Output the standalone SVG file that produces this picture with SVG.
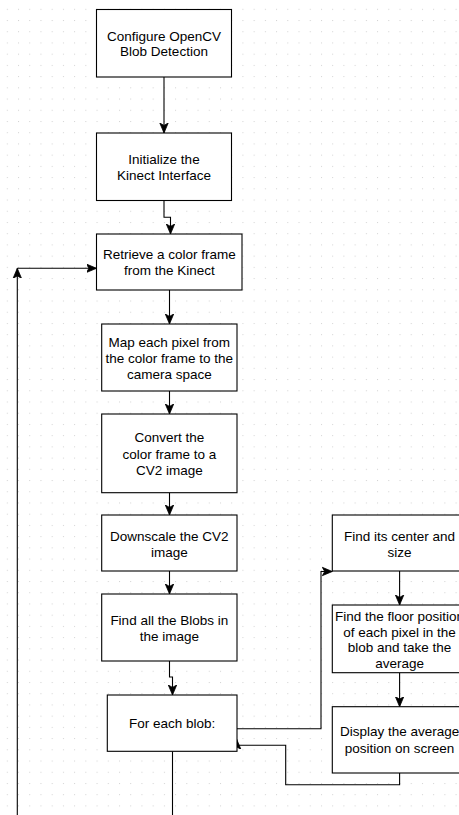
<svg xmlns="http://www.w3.org/2000/svg" width="459" height="815" viewBox="0 0 459 815">
<style>
.box{fill:#fff;stroke:#000;stroke-width:1.1}
.lbl{font-family:"Liberation Sans",Arial,Helvetica,sans-serif;font-size:13.5px;fill:#000;text-anchor:middle}
.edge{fill:none;stroke:#000;stroke-width:1.1}
.arr{marker-end:url(#ah)}
</style>
<defs>
<pattern id="grid" x="6.8" y="8.8" width="11.22" height="11.22" patternUnits="userSpaceOnUse">
<rect x="0" y="0" width="1" height="1" fill="#d2d2d2"/>
</pattern>
<marker id="ah" markerUnits="userSpaceOnUse" markerWidth="12" markerHeight="12" refX="10" refY="5" orient="auto" viewBox="0 0 12 10">
<path d="M10,5 L0,0.8 L2.4,5 L0,9.2 Z" fill="#000" stroke="#000" stroke-width="0.8"/>
</marker>
</defs>
<rect width="459" height="815" fill="#fff"/>
<rect width="459" height="815" fill="url(#grid)"/>

<g id="connectors">
<path class="edge arr" d="M164,77 V133"/>
<path class="edge arr" d="M164,200 V217.3 H170.5 V234"/>
<path class="edge arr" d="M169.5,290 V324"/>
<path class="edge arr" d="M169.5,391 V414"/>
<path class="edge arr" d="M169.5,492.7 V515"/>
<path class="edge arr" d="M169.5,571 V594"/>
<path class="edge arr" d="M169.5,661 V677 H172.5 V695"/>
<path class="edge" d="M172.5,751.3 V815"/>
<path class="edge arr" d="M17.3,815 V268.3"/>
<path class="edge arr" d="M17.3,268.3 H96.5"/>
<path class="edge arr" d="M237,728.7 H321 V571.5 H332.3"/>
<path class="edge arr" d="M399.6,571 V605"/>
<path class="edge arr" d="M399.6,672.7 V706.7"/>
<path class="edge arr" d="M399.6,773 V784.7 H285.7 V745.3 H236.7 V739.3"/>
</g>

<g id="n1">
<rect class="box" x="96.5" y="9.5" width="135" height="67.5"/>
<text class="lbl" x="164" y="40.6">Configure OpenCV</text>
<text class="lbl" x="164" y="56.3">Blob Detection</text>
</g>
<g id="n2">
<rect class="box" x="96.5" y="133" width="135" height="67.5"/>
<text class="lbl" x="164" y="163.9">Initialize the</text>
<text class="lbl" x="164" y="179.6">Kinect Interface</text>
</g>
<g id="n3">
<rect class="box" x="96.5" y="234" width="145.5" height="56"/>
<text class="lbl" x="169.3" y="259.3">Retrieve a color frame</text>
<text class="lbl" x="169.3" y="275">from the Kinect</text>
</g>
<g id="n4">
<rect class="box" x="101.7" y="324" width="135.3" height="67"/>
<text class="lbl" x="169.3" y="347.3">Map each pixel from</text>
<text class="lbl" x="169.3" y="363">the color frame to the</text>
<text class="lbl" x="169.3" y="378.7">camera space</text>
</g>
<g id="n5">
<rect class="box" x="101.7" y="414" width="135.3" height="78.7"/>
<text class="lbl" x="169.3" y="442.3">Convert the</text>
<text class="lbl" x="169.3" y="458.6">color frame to a</text>
<text class="lbl" x="169.3" y="474.6">CV2 image</text>
</g>
<g id="n6">
<rect class="box" x="101.7" y="515" width="135.3" height="56"/>
<text class="lbl" x="169.3" y="540.8">Downscale the CV2</text>
<text class="lbl" x="169.3" y="556.5">image</text>
</g>
<g id="n7">
<rect class="box" x="101.7" y="594" width="135.3" height="67"/>
<text class="lbl" x="169.3" y="624.8">Find all the Blobs in</text>
<text class="lbl" x="169.3" y="640.5">the image</text>
</g>
<g id="n8">
<rect class="box" x="107.3" y="695" width="129.7" height="56.3"/>
<text class="lbl" x="172.2" y="728">For each blob:</text>
</g>
<g id="n9">
<rect class="box" x="332.3" y="515" width="134.6" height="56"/>
<text class="lbl" x="399.6" y="540.8">Find its center and</text>
<text class="lbl" x="399.6" y="556.5">size</text>
</g>
<g id="n10">
<rect class="box" x="332.3" y="605" width="134.6" height="67.7"/>
<text class="lbl" x="399.6" y="620.8">Find the floor position</text>
<text class="lbl" x="399.6" y="636.5">of each pixel in the</text>
<text class="lbl" x="399.6" y="652.2">blob and take the</text>
<text class="lbl" x="399.6" y="667.9">average</text>
</g>
<g id="n11">
<rect class="box" x="332.3" y="706.7" width="134.6" height="66.3"/>
<text class="lbl" x="399.6" y="736.4">Display the average</text>
<text class="lbl" x="399.6" y="752.9">position on screen</text>
</g>
</svg>
